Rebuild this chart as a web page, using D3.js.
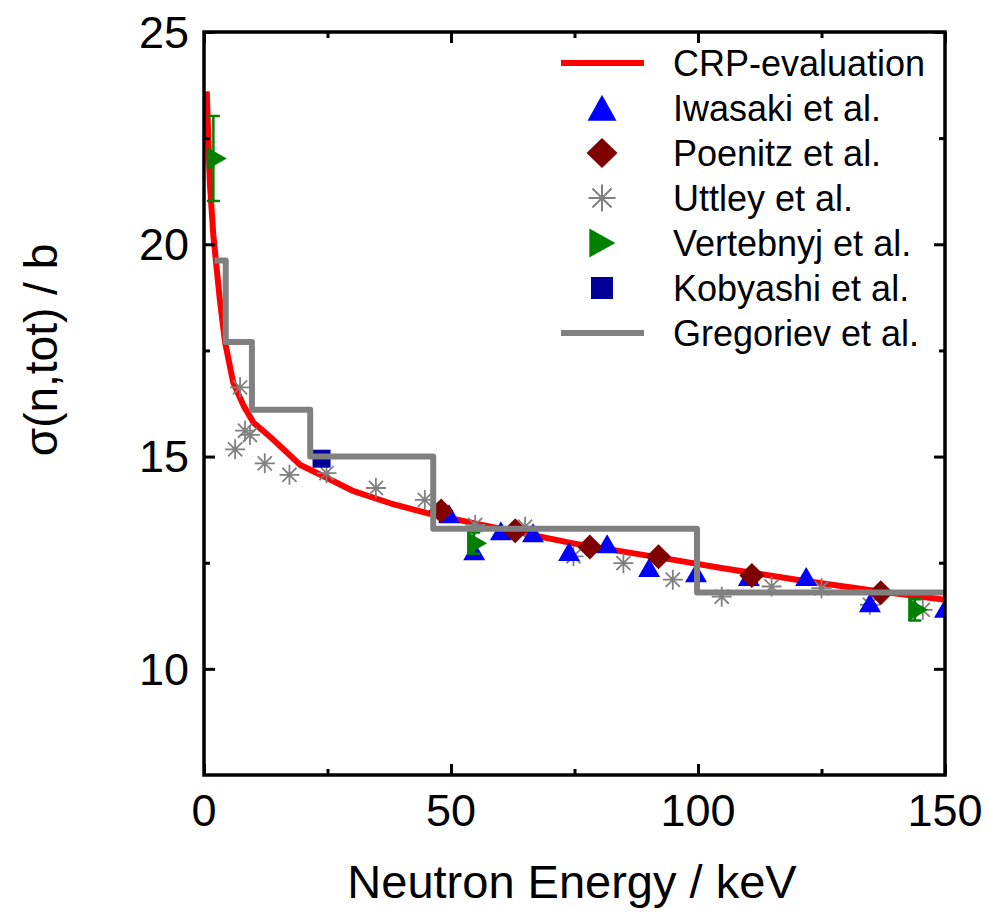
<!DOCTYPE html>
<html>
<head>
<meta charset="utf-8">
<script src="https://cdn.jsdelivr.net/npm/d3@7/dist/d3.min.js"></script>
<style>
    body { margin: 0; background: #fff; }
    svg text { font-family: "Liberation Sans", Arial, sans-serif; fill: #000; }
</style>
</head>
<body>
<div id="chart"></div>
<script>
// ---- data ----
// CRP evaluation curve: [energy keV, sigma b]
var crpCurve = [[0.55,23.6],[1.2,21.4],[1.9,20.2],[3.2,18.7],[4.25,17.7],[5.9,16.75],[8,16.2],[10,15.8],
    [14,15.4],[19.5,14.8],[24,14.55],[30,14.2],[37.7,13.9],[45.7,13.65],[58,13.35],[75,12.95],
    [96,12.55],[105,12.37],[120,12.1],[135,11.85],[150,11.63]];
var iwasaki = [[49.6,13.58],[54.7,12.71],[60.1,13.18],[66.6,13.13],[73.9,12.69],[81.6,12.87],
    [90.1,12.31],[99.6,12.19],[110.3,12.1],[121.9,12.1],[134.8,11.48],[150,11.35]];
var poenitz = [[48.0,13.72],[63.0,13.25],[78.1,12.87],[92.0,12.64],[110.9,12.2],[137.0,11.79]];
var uttley = [[6.3,15.17],[7.3,16.63],[8.3,15.61],[9.3,15.51],[12.3,14.84],[17.3,14.57],[24.8,14.61],
    [34.8,14.26],[44.7,13.98],[54.9,13.39],[65.0,13.35],[74.8,12.65],[84.9,12.49],[94.9,12.10],
    [104.8,11.7],[114.9,11.94],[125.0,11.9],[134.8,11.51],[145.5,11.39]];
var vertebnyj = [[1.9,22.02],[54.6,12.96],[143.9,11.39]];
var vertebnyjErr = [1.0, 0.25, 0.25];
var kobyashi = [[23.8,14.95]];
// step edges and level of each step (last point repeats the level)
var gregoriev = [[2.1,19.62],[4.4,17.7],[9.7,16.1],[21.5,15.0],[46.4,13.3],[99.8,11.8],[150,11.8]];

var xTicks = [0, 50, 100, 150], xMinor = [25, 75, 125];
var yTicks = [10, 15, 20, 25], yMinor = [12.5, 17.5, 22.5];
var legendNames = ["CRP-evaluation", "Iwasaki et al.", "Poenitz et al.", "Uttley et al.",
    "Vertebnyj et al.", "Kobyashi et al.", "Gregoriev et al."];

// ---- layout ----
var width = 988, height = 914;
var pLeft = 204, pRight = 945, pTop = 32, pBottom = 775;

var x = d3.scaleLinear().domain([0, 150]).range([pLeft, pRight]);
var y = d3.scaleLinear().domain([7.5, 25]).range([pBottom, pTop]);

var svg = d3.select("#chart").append("svg")
    .attr("width", width)
    .attr("height", height);

svg.append("defs").append("clipPath").attr("id", "plotclip")
    .append("rect")
    .attr("x", pLeft).attr("y", pTop)
    .attr("width", pRight - pLeft).attr("height", pBottom - pTop);

// marker shapes
function triUp(w, h) {
    // centred on centroid
    return "M0," + (-2 * h / 3) + "L" + (w / 2) + "," + (h / 3) + "L" + (-w / 2) + "," + (h / 3) + "Z";
}
function triRight(w, h) {
    return "M" + (2 * w / 3) + ",0L" + (-w / 3) + "," + (h / 2) + "L" + (-w / 3) + "," + (-h / 2) + "Z";
}
function diamond(w, h) {
    return "M0," + (-h / 2) + "L" + (w / 2) + ",0L0," + (h / 2) + "L" + (-w / 2) + ",0Z";
}
function square(s) {
    return "M" + (-s / 2) + "," + (-s / 2) + "h" + s + "v" + s + "h" + (-s) + "Z";
}
function asterisk(s) {
    var r = s / 2, d = r * Math.SQRT1_2;
    return "M0," + (-r) + "V" + r + "M" + (-r) + ",0H" + r +
        "M" + (-d) + "," + (-d) + "L" + d + "," + d + "M" + (-d) + "," + d + "L" + d + "," + (-d);
}

var plot = svg.append("g").attr("clip-path", "url(#plotclip)");

// CRP curve
plot.append("path")
    .datum(crpCurve)
    .attr("fill", "none")
    .attr("stroke", "#ff0000")
    .attr("stroke-width", 6)
    .attr("stroke-linejoin", "round")
    .attr("d", d3.line().x(function(d) { return x(d[0]); }).y(function(d) { return y(d[1]); }));

// Uttley
plot.selectAll(".uttley").data(uttley).enter().append("path")
    .attr("transform", function(d) { return "translate(" + x(d[0]) + "," + y(d[1]) + ")"; })
    .attr("d", asterisk(20))
    .attr("fill", "none")
    .attr("stroke", "#808080")
    .attr("stroke-width", 1.8);

// Iwasaki
plot.selectAll(".iwasaki").data(iwasaki).enter().append("path")
    .attr("transform", function(d) { return "translate(" + x(d[0]) + "," + y(d[1]) + ")"; })
    .attr("d", triUp(22, 19))
    .attr("fill", "#0000ff");

// Poenitz
plot.selectAll(".poenitz").data(poenitz).enter().append("path")
    .attr("transform", function(d) { return "translate(" + x(d[0]) + "," + y(d[1]) + ")"; })
    .attr("d", diamond(25, 25))
    .attr("fill", "#800000");

// Vertebnyj with error bars
var vg = plot.selectAll(".vert").data(vertebnyj).enter().append("g")
    .attr("transform", function(d) { return "translate(" + x(d[0]) + ",0)"; });
vg.append("path")
    .attr("d", function(d, i) {
        var y0 = y(d[1] - vertebnyjErr[i]), y1 = y(d[1] + vertebnyjErr[i]);
        return "M0," + y0 + "V" + y1 + "M-6.5," + y0 + "H6.5M-6.5," + y1 + "H6.5";
    })
    .attr("stroke", "#008000")
    .attr("stroke-width", 2.5)
    .attr("fill", "none");
vg.append("path")
    .attr("transform", function(d) { return "translate(0," + y(d[1]) + ")"; })
    .attr("d", triRight(20, 23))
    .attr("fill", "#008000");

// Kobyashi
plot.selectAll(".koby").data(kobyashi).enter().append("path")
    .attr("transform", function(d) { return "translate(" + x(d[0]) + "," + y(d[1]) + ")"; })
    .attr("d", square(18))
    .attr("fill", "#000099");

// Gregoriev steps
plot.append("path")
    .datum(gregoriev)
    .attr("fill", "none")
    .attr("stroke", "#808080")
    .attr("stroke-width", 6)
    .attr("stroke-linejoin", "round")
    .attr("d", d3.line().curve(d3.curveStepAfter)
        .x(function(d) { return x(d[0]); }).y(function(d) { return y(d[1]); }));

// ---- axes (ticks pointing inward on all four sides) ----
function styleAxis(g) {
    g.select(".domain").remove();
    g.selectAll(".tick line").attr("stroke", "#000").attr("stroke-width", 3);
}
svg.append("g").attr("transform", "translate(0," + pBottom + ")")
    .call(d3.axisBottom(x).tickValues(xTicks).tickSize(-11).tickFormat(""))
    .call(styleAxis);
svg.append("g").attr("transform", "translate(0," + pBottom + ")")
    .call(d3.axisBottom(x).tickValues(xMinor).tickSize(-6).tickFormat(""))
    .call(styleAxis);
svg.append("g").attr("transform", "translate(0," + pTop + ")")
    .call(d3.axisTop(x).tickValues(xTicks).tickSize(-11).tickFormat(""))
    .call(styleAxis);
svg.append("g").attr("transform", "translate(0," + pTop + ")")
    .call(d3.axisTop(x).tickValues(xMinor).tickSize(-6).tickFormat(""))
    .call(styleAxis);
svg.append("g").attr("transform", "translate(" + pLeft + ",0)")
    .call(d3.axisLeft(y).tickValues(yTicks).tickSize(-11).tickFormat(""))
    .call(styleAxis);
svg.append("g").attr("transform", "translate(" + pLeft + ",0)")
    .call(d3.axisLeft(y).tickValues(yMinor).tickSize(-6).tickFormat(""))
    .call(styleAxis);
svg.append("g").attr("transform", "translate(" + pRight + ",0)")
    .call(d3.axisRight(y).tickValues(yTicks).tickSize(-11).tickFormat(""))
    .call(styleAxis);
svg.append("g").attr("transform", "translate(" + pRight + ",0)")
    .call(d3.axisRight(y).tickValues(yMinor).tickSize(-6).tickFormat(""))
    .call(styleAxis);

svg.append("rect")
    .attr("x", pLeft).attr("y", pTop)
    .attr("width", pRight - pLeft).attr("height", pBottom - pTop)
    .attr("fill", "none")
    .attr("stroke", "#000")
    .attr("stroke-width", 3.5);

// tick labels
svg.selectAll(".xlab").data(xTicks).enter().append("text")
    .attr("x", function(d) { return x(d); })
    .attr("y", 826)
    .attr("text-anchor", "middle")
    .style("font-size", "45px")
    .text(function(d) { return d; });
svg.selectAll(".ylab").data(yTicks).enter().append("text")
    .attr("x", 189)
    .attr("y", function(d) { return y(d); })
    .attr("dy", "0.35em")
    .attr("text-anchor", "end")
    .style("font-size", "45px")
    .text(function(d) { return d; });

// axis titles
svg.append("text")
    .attr("x", 572)
    .attr("y", 898)
    .attr("text-anchor", "middle")
    .style("font-size", "47px")
    .text("Neutron Energy / keV");
svg.append("text")
    .attr("transform", "translate(57,350) rotate(-90)")
    .attr("text-anchor", "middle")
    .style("font-size", "46px")
    .text("σ(n,tot) / b");

// ---- legend ----
var legendY = [63, 108, 153, 198, 243, 288, 333];
var lx = 602;
var legend = svg.append("g");
legend.append("line").attr("x1", 561).attr("x2", 644).attr("y1", legendY[0]).attr("y2", legendY[0])
    .attr("stroke", "#ff0000").attr("stroke-width", 6);
legend.append("path").attr("transform", "translate(" + lx + "," + (legendY[1] + 4) + ")")
    .attr("d", triUp(29, 26)).attr("fill", "#0000ff");
legend.append("path").attr("transform", "translate(" + lx + "," + legendY[2] + ")")
    .attr("d", diamond(31, 30)).attr("fill", "#800000");
legend.append("path").attr("transform", "translate(" + lx + "," + legendY[3] + ")")
    .attr("d", asterisk(27)).attr("fill", "none").attr("stroke", "#808080").attr("stroke-width", 2);
legend.append("path").attr("transform", "translate(" + (lx - 4) + "," + legendY[4] + ")")
    .attr("d", triRight(26, 29)).attr("fill", "#008000");
legend.append("path").attr("transform", "translate(" + lx + "," + legendY[5] + ")")
    .attr("d", square(22)).attr("fill", "#000099");
legend.append("line").attr("x1", 561).attr("x2", 644).attr("y1", legendY[6]).attr("y2", legendY[6])
    .attr("stroke", "#808080").attr("stroke-width", 6);

legend.selectAll(".ltext").data(legendNames).enter().append("text")
    .attr("x", 673)
    .attr("y", function(d, i) { return legendY[i]; })
    .attr("dy", "0.36em")
    .style("font-size", "36px")
    .text(function(d) { return d; });
</script>
</body>
</html>
